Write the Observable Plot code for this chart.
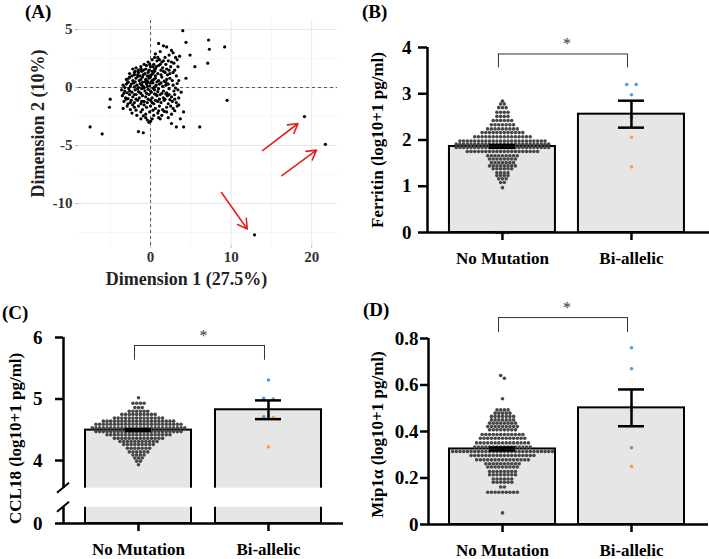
<!DOCTYPE html>
<html><head><meta charset="utf-8">
<script src="https://cdn.jsdelivr.net/npm/d3@7"></script>
<script src="https://cdn.jsdelivr.net/npm/@observablehq/plot@0.6"></script>
<style>
body{margin:0;background:#fff;}
#fig{position:relative;width:709px;height:559px;overflow:hidden;background:#fff;font-family:'Liberation Serif','Times New Roman',serif;}
.plabel{position:absolute;font-weight:bold;font-size:19px;line-height:1;color:#000;}
</style></head><body><div id="fig"></div>
<script>
// ---------------- DATA ----------------
const categories = ["No Mutation", "Bi-allelic"];

// Panel A: individuals on dimensions 1 & 2
const pcaPoints = [
[1.0,3.8],[2.0,3.5],[1.6,3.6],[4.0,4.9],[4.4,3.9],
[2.8,3.0],[3.6,2.7],[4.9,2.8],[1.2,3.1],[2.3,2.8],[0.6,2.9],[1.8,2.6],[3.1,2.6],[2.6,3.2],[0.9,2.6],[7.2,4.1],[7.3,3.3],[9.2,3.5],
[0.2,2.4],[0.8,2.3],[1.4,2.2],[2.2,2.3],[2.9,2.1],[3.3,2.4],[-0.3,2.2],[-0.8,2.0],[1.9,2.0],[0.4,2.0],[7.1,2.1],[-0.1,2.0],[1.1,2.4],[2.6,2.2],
[-1.8,1.7],[-1.2,1.8],[-0.6,1.6],[0.0,1.8],[0.5,1.6],[1.0,1.9],[1.5,1.7],[2.0,1.6],[2.5,1.8],[3.0,1.5],[5.5,1.8],[-1.5,1.5],[-0.2,1.5],[0.7,1.8],[1.3,1.5],[-2.2,1.6],[2.3,1.5],[-0.9,1.5],
[-2.6,1.2],[-2.0,1.3],[-1.6,1.1],[-1.1,1.4],[-0.7,1.2],[-0.3,1.3],[0.1,1.1],[0.5,1.4],[0.9,1.2],[1.3,1.1],[1.8,1.3],[2.4,1.2],[3.2,1.0],[-2.3,1.0],[-1.3,1.0],[-0.1,1.0],[0.6,1.0],[1.6,1.4],[-1.9,1.4],[0.3,1.2],
[-3.0,0.7],[-2.6,0.9],[-2.2,0.6],[-1.8,0.8],[-1.4,0.6],[-1.0,0.9],[-0.6,0.7],[-0.2,0.8],[0.2,0.6],[0.6,0.8],[1.0,0.6],[1.4,0.9],[2.0,0.7],[2.7,0.6],[4.4,0.8],[-2.8,0.5],[-1.6,0.95],[-0.4,0.55],[0.8,0.5],[1.7,0.55],[-1.2,0.7],[0.0,0.9],[3.5,0.6],
[-3.4,0.2],[-3.0,0.3],[-2.5,0.1],[-2.1,0.4],[-1.7,0.2],[-1.3,0.35],[-0.9,0.1],[-0.5,0.3],[-0.1,0.15],[0.3,0.4],[0.7,0.2],[1.1,0.3],[1.5,0.1],[2.2,0.3],[2.8,0.2],[3.3,0.35],[-2.8,0.45],[-1.0,0.45],[0.5,0.05],[1.9,0.45],[-2.0,0.05],[-0.3,0.45],
[-3.6,-0.2],[-3.2,-0.3],[-2.7,-0.1],[-2.3,-0.4],[-1.9,-0.2],[-1.5,-0.35],[-1.1,-0.1],[-0.7,-0.3],[-0.3,-0.15],[0.1,-0.4],[0.5,-0.2],[0.9,-0.35],[1.6,-0.3],[2.3,-0.1],[2.9,-0.3],[3.4,-0.2],[3.8,-0.4],[-2.9,-0.45],[-1.3,-0.45],[0.3,-0.05],[2.0,-0.45],[3.1,-0.05],
[-3.5,-0.7],[-3.1,-0.9],[-2.6,-0.6],[-2.2,-0.8],[-1.8,-0.6],[-1.4,-0.9],[-1.0,-0.7],[-0.6,-0.8],[-0.2,-0.6],[0.2,-0.9],[0.8,-0.7],[1.2,-0.6],[1.6,-0.9],[2.1,-0.7],[2.6,-0.8],[3.0,-0.6],[3.5,-0.9],[-5.0,-1.0],[-2.8,-0.95],[0.5,-0.55],[1.9,-0.55],
[-3.3,-1.2],[-2.8,-1.4],[-2.4,-1.1],[-2.0,-1.3],[-1.6,-1.1],[-1.2,-1.4],[-0.8,-1.2],[-0.4,-1.3],[0.0,-1.1],[0.4,-1.4],[0.9,-1.2],[1.3,-1.3],[1.7,-1.1],[2.2,-1.4],[2.7,-1.2],[3.2,-1.3],[9.5,-1.1],[-3.0,-1.0],[1.1,-1.0],[2.4,-1.05],
[-3.4,-1.8],[-2.9,-1.6],[-2.5,-1.9],[-2.0,-1.7],[-1.5,-1.6],[-1.0,-1.9],[-0.5,-1.7],[0.0,-1.6],[0.6,-1.8],[1.1,-1.6],[1.5,-1.9],[2.0,-1.7],[2.8,-1.8],[3.3,-1.6],[-5.1,-1.7],[-1.8,-1.95],[0.3,-1.95],
[-2.3,-2.2],[-1.7,-2.4],[-1.2,-2.1],[-0.6,-2.3],[-0.1,-2.1],[0.4,-2.4],[0.9,-2.2],[1.4,-2.4],[2.0,-2.1],[2.6,-2.3],[4.1,-2.1],[-0.9,-2.45],[1.7,-2.05],
[-1.2,-2.7],[-0.4,-2.8],[0.2,-2.7],[0.0,-2.9],[1.0,-2.6],[2.2,-2.6],[3.7,-2.7],[-0.2,-3.0],
[2.6,-3.1],[3.2,-3.4],[4.1,-3.4],[6.1,-3.4],[-1.5,-3.8],[-0.9,-3.9],[-7.5,-3.4],[-6.0,-4.0],
[-2.4,0.3],[-1.9,0.5],[-1.5,0.0],[-1.1,0.2],[-0.7,0.5],[-0.4,0.1],[0.0,0.4],[0.4,0.7],[-2.7,0.8],[-2.0,1.1],[-1.5,1.3],[-0.9,1.1],[-0.4,1.0],[0.2,1.4],[0.6,1.6],[-1.2,1.6],[-0.5,1.9],[0.3,1.8],
[-3.2,0.0],[-2.6,-0.3],[-2.0,-0.6],[-1.6,-0.1],[-1.2,-0.5],[-0.8,-0.05],[-0.5,-0.5],[0.0,-0.3],[0.7,-0.6],[1.0,-0.1],[1.3,0.4],[-3.3,-0.5],[-2.5,-1.3],[-1.8,-1.0],[-1.1,-1.2],[-0.3,-1.0],[0.2,-1.3],[0.6,-1.1],
[1.4,-0.5],[1.8,-1.0],[2.3,-0.6],[2.5,-1.6],[3.0,-1.0],[1.0,-2.0],[-0.8,-1.5],[-2.2,-1.5],[1.9,0.2],[2.4,0.8],[2.1,1.1],[1.2,2.0],[1.6,2.3],[0.5,2.6],[3.4,1.8],[2.8,1.3],[3.0,-2.0],[3.5,-1.5],[1.2,-2.7],[-0.6,-2.6],
[19.1,-2.5],[21.7,-4.9],[12.9,-12.7]
];
const pcaArrowX1 = [13.9, 16.3, 8.8];
const pcaArrowY1 = [-5.43, -7.6, -9.05];
const pcaArrowX2 = [18.3, 20.6, 12.0];
const pcaArrowY2 = [-3.1, -5.4, -12.2];
const pcaTicksX = [0, 10, 20];
const pcaTicksY = [-10, -5, 0, 5];
const pcaMinorX = [-5, 5, 15];
const pcaMinorY = [-12.5, -7.5, -2.5, 2.5];

// Panel B: Ferritin (log10+1 pg/ml)
const ferritinNoMutLevels = [2.84,2.78,2.70,2.60,2.51,2.42,2.33,2.24,2.16,2.07,1.98,1.91,1.84,1.75,1.66,1.59,1.51,1.44,1.38,1.29,1.23,1.16,1.08,0.97,0];
const ferritinNoMutCounts = [1,2,3,4,4,6,7,9,12,16,24,26,26,20,9,8,7,8,6,4,4,3,2,1,4];
const ferritinBiBlue = [3.2, 3.2, 2.98, 2.49];
const ferritinBiOrange = [2.06, 1.42];
const ferritinTicks = [0, 1, 2, 3, 4];

// Panel C: CCL18 (log10+1 pg/ml)
const ccl18NoMutLevels = [5.02,4.93,4.86,4.80,4.75,4.69,4.64,4.59,4.53,4.47,4.42,4.36,4.31,4.26,4.20,4.14,4.09,4.04,3.99,3.93];
const ccl18NoMutCounts = [1,4,3,6,10,14,20,24,26,24,18,14,11,9,7,6,4,3,2,1];
const ccl18BiBlue = [5.31, 5.01, 5.0, 4.71];
const ccl18BiOrange = [4.70, 4.22];
const ccl18Ticks = [0, 4, 5, 6];

// Panel D: Mip1α (log10+1 pg/ml)
const mipNoMutLevels = [0.641,0.629,0.541,0.493,0.479,0.465,0.450,0.436,0.421,0.407,0.387,0.371,0.351,0.333,0.314,0.297,0.278,0.261,0.247,0.228,0.214,0.196,0.182,0.161,0.139,0.05];
const mipNoMutCounts = [1,1,1,4,5,7,7,8,9,8,12,13,15,16,28,18,15,10,9,8,8,6,6,2,9,1];
const mipBiBlue = [0.76, 0.67, 0.51, 0.33];
const mipBiOrange = [0.49, 0.25];
const mipTicks = [0, 0.2, 0.4, 0.6, 0.8];

// ---------------- DRAWING ----------------
const FONT = "'Liberation Serif','Times New Roman',serif";
const DARK = "#474747", BLUE = "#5b9bd8", ORANGE = "#f5a043";
const fig = document.getElementById("fig");
function place(node, left, top) {
  node.style.position = "absolute"; node.style.left = left + "px"; node.style.top = top + "px";
  fig.appendChild(node);
}
function label(t, left, top) {
  const d = document.createElement("div"); d.className = "plabel"; d.textContent = t;
  d.style.left = left + "px"; d.style.top = top + "px"; fig.appendChild(d);
}
function expand(levels, counts) {
  const out = []; levels.forEach((v, i) => { for (let k = 0; k < counts[i]; k++) out.push(v); }); return out;
}
// Prism-like row swarm: values close in y share a row and are spread horizontally
function swarm(items, center, step, tol) {
  const sorted = items.slice().sort((a, b) => b.v - a.v);
  const rows = [];
  for (const it of sorted) {
    const last = rows[rows.length - 1];
    if (last && Math.abs(last[0].v - it.v) <= tol) last.push(it); else rows.push([it]);
  }
  const out = [];
  for (const row of rows) row.forEach((it, k) => out.push({value: it.v, color: it.c, x: center + (k - (row.length - 1) / 2) * step}));
  return out;
}

// ----- Panel A -----
{
  const arrows = pcaArrowX1.map((_, i) => ({x1: pcaArrowX1[i], y1: pcaArrowY1[i], x2: pcaArrowX2[i], y2: pcaArrowY2[i]}));
  const xDom = [-8.94, 23.2], yDom = [-13.62, 5.78];
  const svg = Plot.plot({
    width: 350, height: 292, marginLeft: 78, marginRight: 13, marginTop: 20, marginBottom: 47,
    x: {domain: xDom}, y: {domain: yDom},
    style: {fontFamily: FONT, fontWeight: "bold", fontSize: "15px", background: "transparent", overflow: "visible"},
    marks: [
      Plot.ruleX(pcaMinorX, {stroke: "#f0f0f0", strokeWidth: 0.6}),
      Plot.ruleY(pcaMinorY, {stroke: "#f0f0f0", strokeWidth: 0.6}),
      Plot.ruleX(pcaTicksX, {stroke: "#e8e8e8", strokeWidth: 1}),
      Plot.ruleY(pcaTicksY, {stroke: "#e8e8e8", strokeWidth: 1}),
      Plot.ruleX([0], {stroke: "#555", strokeWidth: 1, strokeDasharray: "3,3"}),
      Plot.ruleY([0], {stroke: "#555", strokeWidth: 1, strokeDasharray: "3,3"}),
      Plot.dot(pcaPoints, {x: d => d[0], y: d => d[1], r: 1.6, fill: "black", stroke: null}),
      Plot.arrow(arrows, {x1: "x1", y1: "y1", x2: "x2", y2: "y2", stroke: "#e5211d", strokeWidth: 1.6, headLength: 10}),
      Plot.axisX({ticks: pcaTicksX, tickFormat: d => String(d), tickSize: 3, tickPadding: 3, stroke: "#bbb", fill: "#333", label: null, fontSize: 15, fontWeight: "bold"}),
      Plot.axisY({ticks: pcaTicksY, tickFormat: d => String(d), tickSize: 3, tickPadding: 3, stroke: "#bbb", fill: "#333", label: null, fontSize: 15, fontWeight: "bold"}),
      Plot.text(["Dimension 1 (27.5%)"], {x: 4.47, y: yDom[0], dy: 34, fontSize: 18, fontWeight: "bold", fill: "#222"}),
      Plot.text(["Dimension 2 (10%)"], {x: xDom[0], y: -3.1, rotate: -90, dx: -40, fontSize: 18, fontWeight: "bold", fill: "#222"})
    ]
  });
  place(svg, 0, 0);
}

// ----- Bar panels -----
function barPanel(cfg) {
  const innerW = cfg.width - cfg.marginLeft - cfg.marginRight;
  const pxPerUnit = innerW / (cfg.xDomain[1] - cfg.xDomain[0]);
  const base = cfg.y.domain[0];
  const noMut = expand(cfg.levels, cfg.counts);
  const bi = [...cfg.blue, ...cfg.orange];
  const dots = [
    ...swarm(noMut.map(v => ({v, c: DARK})), 0, 3.7 / pxPerUnit, cfg.tol),
    ...swarm([...cfg.blue.map(v => ({v, c: BLUE})), ...cfg.orange.map(v => ({v, c: ORANGE}))], 1, 9.5 / pxPerUnit, cfg.tol)
  ];
  const summary = [noMut, bi].map((vals, i) => {
    const m = d3.mean(vals), sem = d3.deviation(vals) / Math.sqrt(vals.length);
    return {i, mean: m, lo: m - sem, hi: m + sem};
  });
  const barHalf = 53 / pxPerUnit, capHalf = 13 / pxPerUnit;
  const x0 = cfg.xDomain[0];
  const marks = [
    Plot.rectY(summary, {x1: d => d.i - barHalf, x2: d => d.i + barHalf, y1: base, y2: "mean", fill: "#e6e6e6", stroke: "black", strokeWidth: 2})
  ];
  if (cfg.brk) marks.push(Plot.rect([cfg.brk], {x1: x0, x2: cfg.xDomain[1], y1: d => d[0], y2: d => d[1], fill: "white", insetLeft: -6}));
  marks.push(
    Plot.dot(dots, {x: "x", y: "value", r: 1.8, fill: "color", stroke: null}),
    Plot.ruleX(summary, {x: "i", y1: "lo", y2: "hi", stroke: "black", strokeWidth: 2.5}),
    Plot.ruleY(summary, {y: "lo", x1: d => d.i - capHalf, x2: d => d.i + capHalf, stroke: "black", strokeWidth: 2.5}),
    Plot.ruleY(summary, {y: "hi", x1: d => d.i - capHalf, x2: d => d.i + capHalf, stroke: "black", strokeWidth: 2.5}),
    Plot.ruleY([base], {stroke: "black", strokeWidth: 2.5}),
    Plot.ruleX(cfg.axisSegments, {x: x0, y1: d => d[0], y2: d => d[1], stroke: "black", strokeWidth: 2.5}),
    Plot.axisY({ticks: cfg.tickPos, tickFormat: cfg.tickFormat, tickSize: cfg.tickSize, tickPadding: cfg.tickPadding, strokeWidth: 2.5, stroke: "black", fill: "black", label: null, fontSize: 19, fontWeight: "bold"}),
    Plot.axisX({ticks: [0, 1], tickFormat: i => categories[i], tickSize: 8, tickPadding: 11, strokeWidth: 2.5, stroke: "black", fill: "black", label: null, fontSize: 17, fontWeight: "bold"}),
    Plot.ruleY([cfg.bracket[0]], {x1: 0, x2: 1, dx: -4, stroke: "#333", strokeWidth: 1}),
    Plot.ruleX([0, 1], {x: d => d, y1: cfg.bracket[0], y2: cfg.bracket[1], dx: -4, stroke: "#333", strokeWidth: 1}),
    Plot.text(["*"], {x: 0.5, y: cfg.bracket[0], dy: -10, fontSize: 16, fontWeight: "normal", fill: "#333"}),
    Plot.text([cfg.title], {x: x0, y: cfg.titleY, rotate: -90, dx: cfg.titleDx, fontSize: 17, fontWeight: "bold", fill: "black"})
  );
  if (cfg.brk) {
    marks.push((index, scales) => {
      const g = d3.create("svg:g");
      const x = scales.x(x0);
      for (const v of cfg.brk) {
        const y = scales.y(v);
        g.append("line").attr("x1", x - 6).attr("y1", y + 5).attr("x2", x + 6).attr("y2", y - 5)
          .attr("stroke", "black").attr("stroke-width", 2);
      }
      return g.node();
    });
  }
  return Plot.plot({
    width: cfg.width, height: cfg.height,
    marginLeft: cfg.marginLeft, marginRight: cfg.marginRight, marginTop: cfg.marginTop, marginBottom: cfg.marginBottom,
    x: {domain: cfg.xDomain},
    y: cfg.y,
    color: {type: "identity"},
    style: {fontFamily: FONT, fontWeight: "bold", fontSize: "17px", background: "transparent", overflow: "visible"},
    marks
  });
}

// Panel B
place(barPanel({
  width: 359, height: 280, marginLeft: 77, marginRight: 0, marginTop: 47, marginBottom: 48,
  xDomain: [-0.581, 1.605], y: {domain: [0, 4]},
  levels: ferritinNoMutLevels, counts: ferritinNoMutCounts, blue: ferritinBiBlue, orange: ferritinBiOrange,
  tol: 0.05, tickPos: ferritinTicks, tickFormat: d => String(d), tickSize: 9, tickPadding: 7,
  axisSegments: [[0, 4]], bracket: [3.86, 3.56],
  title: "Ferritin (log10+1 pg/ml)", titleDx: -50, titleY: 2.0
}), 350, 0);

// Panel C (broken axis: the bottom of the drawn range stands for 0)
const C_ZERO = 2.976;          // axis position labelled "0" below the break
const C_BREAK = [3.24, 3.55];  // gap of the broken axis
place(barPanel({
  width: 350, height: 279, marginLeft: 63, marginRight: 7, marginTop: 57, marginBottom: 36,
  xDomain: [-0.577, 1.577], y: {domain: [C_ZERO, 6]},
  levels: ccl18NoMutLevels, counts: ccl18NoMutCounts, blue: ccl18BiBlue, orange: ccl18BiOrange,
  tol: 0.03, tickPos: ccl18Ticks.map(t => t === 0 ? C_ZERO : t), tickFormat: d => d === C_ZERO ? "0" : String(d),
  tickSize: 8, tickPadding: 13,
  axisSegments: [[C_ZERO, C_BREAK[0]], [C_BREAK[1], 6]], brk: C_BREAK, bracket: [5.87, 5.63],
  title: "CCL18 (log10+1 pg/ml)", titleDx: -48, titleY: 4.36
}), 0, 280);

// Panel D
place(barPanel({
  width: 359, height: 279, marginLeft: 78, marginRight: 1, marginTop: 58, marginBottom: 35,
  xDomain: [-0.574, 1.597], y: {domain: [0, 0.8]},
  levels: mipNoMutLevels, counts: mipNoMutCounts, blue: mipBiBlue, orange: mipBiOrange,
  tol: 0.013, tickPos: mipTicks, tickFormat: d => String(d), tickSize: 8, tickPadding: 2,
  axisSegments: [[0, 0.8]], bracket: [0.89, 0.826],
  title: "Mip1α (log10+1 pg/ml)", titleDx: -51, titleY: 0.387
}), 350, 280);

label("(A)", 25, 2);
label("(B)", 362, 2);
label("(C)", 2, 303);
label("(D)", 363, 300);
</script>
</body></html>
